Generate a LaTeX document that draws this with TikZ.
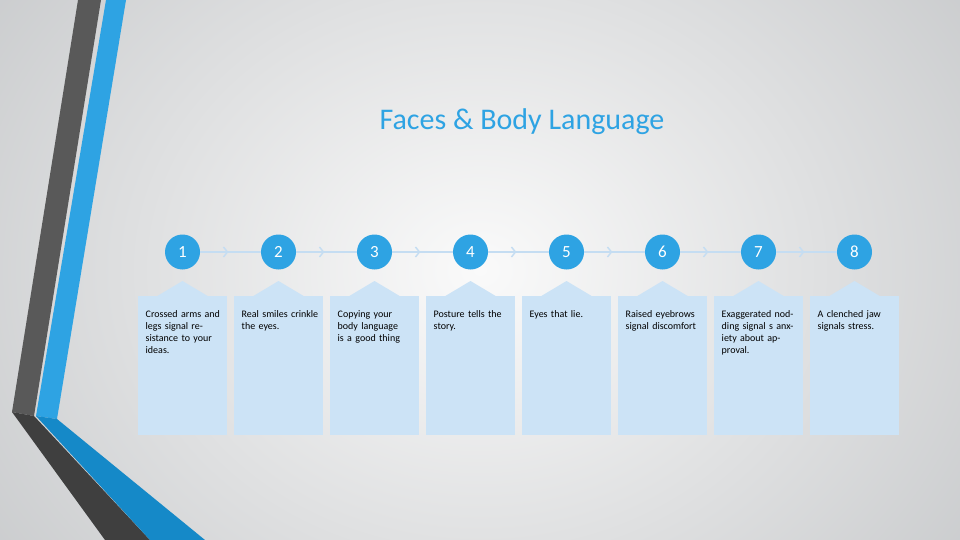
\documentclass[tikz,border=0pt]{standalone}
\usepackage{fontspec}
\setmainfont{Carlito}
\usetikzlibrary{calc}
\definecolor{bgA}{HTML}{FAFAFA}
\definecolor{bgB}{HTML}{C4C6C8}
\definecolor{cblue}{HTML}{2EA3E3}
\definecolor{dblue}{HTML}{1589C8}
\definecolor{gA}{HTML}{595959}
\definecolor{gB}{HTML}{3F3F3F}
\definecolor{boxc}{HTML}{CCE3F6}
\definecolor{linec}{HTML}{C5DDF2}
\begin{document}
\begin{tikzpicture}[x=1pt,y=-1pt,
  num/.style={circle,fill=cblue,minimum size=35pt,inner sep=0pt,text=white,font=\fontsize{17}{17}\selectfont},
  card/.style={fill=boxc,minimum width=89pt,minimum height=139pt,anchor=north,inner sep=0pt},
  cardtext/.style={anchor=north west,text width=78pt,align=left,font=\fontsize{10}{12}\selectfont,inner sep=0pt},
  link/.style={draw=linec,line width=1.3pt}]
\useasboundingbox (0,0) rectangle (960,540);
\shade[inner color=bgA,outer color=bgB] (-200,-300) rectangle (1160,840);
% decorative bands
\fill[gA] (78,0) -- (101,0) -- (34,416) -- (12,412) -- cycle;
\fill[gB] (12,412) -- (34,416) -- (150,540) -- (105,540) -- cycle;
\fill[cblue] (106,0) -- (126,0) -- (57,419) -- (36,416) -- cycle;
\fill[dblue] (36,416) -- (57,419) -- (205,540) -- (150,540) -- cycle;
\node[text=cblue,font=\fontsize{30}{30}\selectfont] (title) at (522,122) {Faces \& Body Language};
\foreach \i/\t in {1/{Crossed arms and legs signal resistance to your ideas.},
  2/{Real smiles crinkle the eyes.},
  3/{Copying your body language is a good thing},
  4/{Posture tells the story.},
  5/{Eyes that lie.},
  6/{Raised eyebrows signal discomfort},
  7/{Exaggerated nodding signal s anxiety about approval.},
  8/{A clenched jaw signals stress.}}{
  \pgfmathsetmacro{\cx}{182.5+96*(\i-1)}
  \node[card] (b\i) at (\cx,296) {};
  \fill[boxc] (\cx-26,296.5) -- (\cx,281) -- (\cx+26,296.5) -- cycle;
  \node[cardtext] (t\i) at (\cx-37,310) {\t};
  \node[num] (n\i) at (\cx,252) {\i};
}
\foreach \i [evaluate=\i as \j using int(\i+1)] in {1,...,7}{
  \draw[link] (n\i.east) -- (n\j.west);
  \path (n\i.east) -- coordinate[pos=0.45] (m\i) (n\j.west);
  \draw[link,line width=1.5pt] ($(m\i)+(-4,-5)$) -- (m\i) -- ($(m\i)+(-4,5)$);
}
\end{tikzpicture}
\end{document}
